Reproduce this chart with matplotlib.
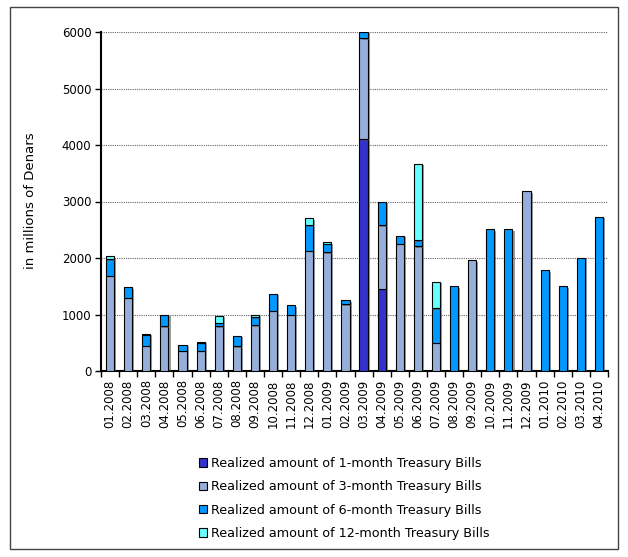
import matplotlib
matplotlib.use("Agg")
import matplotlib.pyplot as plt
import matplotlib.patheffects as pe
from matplotlib.patches import Rectangle, Patch
import numpy as np

months = ["01.2008", "02.2008", "03.2008", "04.2008", "05.2008", "06.2008", "07.2008",
          "08.2008", "09.2008", "10.2008", "11.2008", "12.2008", "01.2009", "02.2009",
          "03.2009", "04.2009", "05.2009", "06.2009", "07.2009", "08.2009", "09.2009",
          "10.2009", "11.2009", "12.2009", "01.2010", "02.2010", "03.2010", "04.2010"]

one_month = [0, 0, 0, 0, 0, 0, 0, 0, 0, 0, 0, 0, 0, 0,
             4100, 1450, 0, 0, 0, 0, 0, 0, 0, 0, 0, 0, 0, 0]
three_month = [1680, 1300, 450, 790, 360, 360, 790, 440, 810, 1070, 1000, 2130, 2100, 1180,
               1790, 1130, 2250, 2210, 500, 0, 1960, 0, 0, 3180, 0, 0, 0, 0]
six_month = [300, 180, 190, 200, 100, 140, 65, 185, 140, 300, 160, 450, 150, 70,
             110, 420, 140, 100, 610, 1500, 0, 2510, 2510, 0, 1780, 1500, 2000, 2730]
twelve_month = [50, 0, 15, 0, 0, 15, 120, 0, 45, 0, 0, 120, 30, 0,
                0, 0, 0, 1360, 470, 0, 0, 0, 0, 0, 0, 0, 0, 0]

series = [
    ("Realized amount of 1-month Treasury Bills", one_month, "#3333CC"),
    ("Realized amount of 3-month Treasury Bills", three_month, "#96AFD8"),
    ("Realized amount of 6-month Treasury Bills", six_month, "#0099FF"),
    ("Realized amount of 12-month Treasury Bills", twelve_month, "#66FFFF"),
]

W, H = 628, 557
fig = plt.figure(figsize=(W / 100, H / 100), dpi=100)
ax = fig.add_axes([101 / W, 1 - 371 / H, (608 - 101) / W, (371 - 32) / H])

x = np.arange(len(months))
bottom = np.zeros(len(months))
handles = []
shadow = [pe.SimplePatchShadow(offset=(1.5, -1.0), shadow_rgbFace="#555555", alpha=0.6), pe.Normal()]
for label, vals, color in series:
    vals = np.array(vals, dtype=float)
    bars = ax.bar(x, vals, width=0.45, bottom=bottom, color=color, edgecolor="black",
                  linewidth=0.8, zorder=3)
    for b, v in zip(bars, vals):
        if v > 0:
            b.set_path_effects(shadow)
        else:
            b.set_visible(False)
    handles.append(Patch(facecolor=color, edgecolor="black", linewidth=0.8, label=label))
    bottom += vals

ax.set_xlim(-0.5, len(months) - 0.5)
ax.set_ylim(0, 6000)
ax.set_yticks(np.arange(0, 6001, 1000))
ax.tick_params(axis="y", labelsize=8.5, length=4, width=1, direction="out", pad=3)
ax.yaxis.grid(True, linestyle=(0, (1, 1)), color="#666666", linewidth=0.8, zorder=0)
ax.set_axisbelow(True)

ax.set_xticks(x)
ax.set_xticklabels(months, rotation=90, fontsize=8.5)
ax.tick_params(axis="x", which="major", length=0, pad=6)
ax.set_xticks(np.arange(-0.5, len(months), 1), minor=True)
ax.tick_params(axis="x", which="minor", length=4, width=1, direction="out")

for s in ["top", "right"]:
    ax.spines[s].set_visible(False)
for s in ["left", "bottom"]:
    ax.spines[s].set_linewidth(1.5)

fig.text(30 / W, 1 - 201 / H, "in millions of Denars", rotation=90, fontsize=9.5,
         ha="center", va="center")

leg = fig.legend(handles=handles, loc="upper left", bbox_to_anchor=(194 / W, 1 - 452 / H),
                 frameon=False, fontsize=9.2, handlelength=0.65, handleheight=0.65,
                 handletextpad=0.3, labelspacing=0.8, borderaxespad=0)

fig.patches.append(Rectangle((10 / W, 1 - 549 / H), (618 - 10) / W, (549 - 7) / H,
                             transform=fig.transFigure, fill=False, edgecolor="#444444",
                             linewidth=1.0))

fig.savefig("out.png", dpi=100)
